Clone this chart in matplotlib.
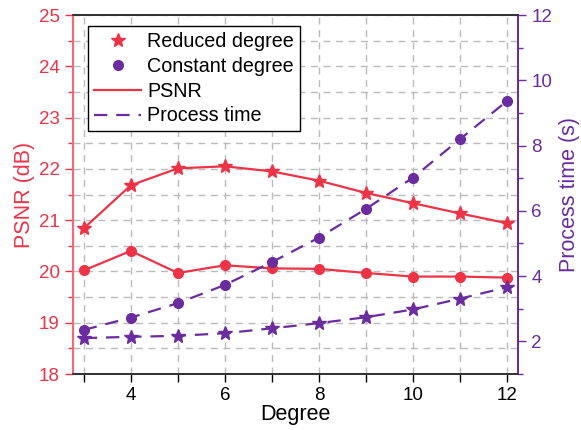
import matplotlib.pyplot as plt
from matplotlib.lines import Line2D
from matplotlib.ticker import MultipleLocator

plt.rcParams['font.family'] = ['Liberation Sans', 'DejaVu Sans']

degree = [3, 4, 5, 6, 7, 8, 9, 10, 11, 12]
psnr_reduced = [20.84, 21.68, 22.01, 22.05, 21.95, 21.77, 21.53, 21.33, 21.13, 20.94]
psnr_constant = [20.02, 20.40, 19.97, 20.12, 20.06, 20.05, 19.97, 19.90, 19.90, 19.88]
time_reduced = [2.10, 2.14, 2.17, 2.25, 2.40, 2.56, 2.74, 2.98, 3.31, 3.66]
time_constant = [2.35, 2.73, 3.17, 3.73, 4.43, 5.18, 6.06, 7.02, 8.20, 9.37]

red = '#EE3347'
purple = '#6A2C9E'

fig = plt.figure(figsize=(5.81, 4.30), dpi=100)
ax = fig.add_axes([0.1256, 0.1302, 0.766, 0.8349])
ax2 = ax.twinx()

# PSNR on left axis
ax.plot(degree, psnr_reduced, color=red, lw=1.6, marker='*', ms=10, zorder=3)
ax.plot(degree, psnr_constant, color=red, lw=1.6, marker='o', ms=7, zorder=3)

# process time on right axis
ax2.plot(degree, time_reduced, color=purple, lw=1.6, ls=(0, (6, 4)), marker='*', ms=10)
ax2.plot(degree, time_constant, color=purple, lw=1.6, ls=(0, (6, 4)), marker='o', ms=7)

ax.set_xlim(2.77, 12.23)
ax.set_ylim(18, 25)
ax2.set_ylim(1, 12)

ax.xaxis.set_major_locator(MultipleLocator(2))
ax.xaxis.set_minor_locator(MultipleLocator(1))
ax.yaxis.set_major_locator(MultipleLocator(1))
ax.yaxis.set_minor_locator(MultipleLocator(0.5))
ax2.yaxis.set_major_locator(MultipleLocator(2))
ax2.yaxis.set_minor_locator(MultipleLocator(1))

ax.grid(True, which='both', color='#BBBBBB', ls=(0, (5, 4)), lw=1.0)
ax.set_axisbelow(True)

ax.tick_params(axis='x', which='both', direction='out', length=6, width=1, labelsize=13.5, colors='black')
ax.tick_params(axis='y', which='major', direction='out', length=6, width=1, labelsize=13.5, colors=red)
ax.tick_params(axis='y', which='minor', direction='out', length=3.5, width=1, colors=red)
ax2.tick_params(axis='y', which='major', direction='out', length=6, width=1, labelsize=13.5, colors=purple)
ax2.tick_params(axis='y', which='minor', direction='out', length=3.5, width=1, colors=purple)

for a in (ax, ax2):
    a.spines['left'].set_color('#F06A78')
    a.spines['right'].set_color(purple)
    a.spines['top'].set_color('#333333')
    a.spines['bottom'].set_color('#333333')
    for s in a.spines.values():
        s.set_linewidth(1.3)
    a.spines['left'].set_linewidth(1.5)

ax.set_xlabel('Degree', fontsize=15.5, labelpad=0)
ax.set_ylabel('PSNR (dB)', fontsize=15.5, color=red, labelpad=3)
ax2.set_ylabel('Process time (s)', fontsize=15.5, color=purple, labelpad=5)

handles = [
    Line2D([], [], color=red, ls='none', marker='*', ms=10),
    Line2D([], [], color=purple, ls='none', marker='o', ms=7),
    Line2D([], [], color=red, lw=1.6),
    Line2D([], [], color=purple, lw=1.6, ls=(0, (6, 4))),
]
labels = ['Reduced degree', 'Constant degree', 'PSNR', 'Process time']
leg = ax2.legend(handles, labels, loc='upper left', bbox_to_anchor=(0.034, 0.97),
                 fontsize=14.2, frameon=True, fancybox=False, framealpha=1,
                 edgecolor='black', borderpad=0.3, labelspacing=0.3,
                 handlelength=2.4, handletextpad=0.3, borderaxespad=0)
leg.get_frame().set_linewidth(1.0)

fig.savefig('out.png', dpi=100)
